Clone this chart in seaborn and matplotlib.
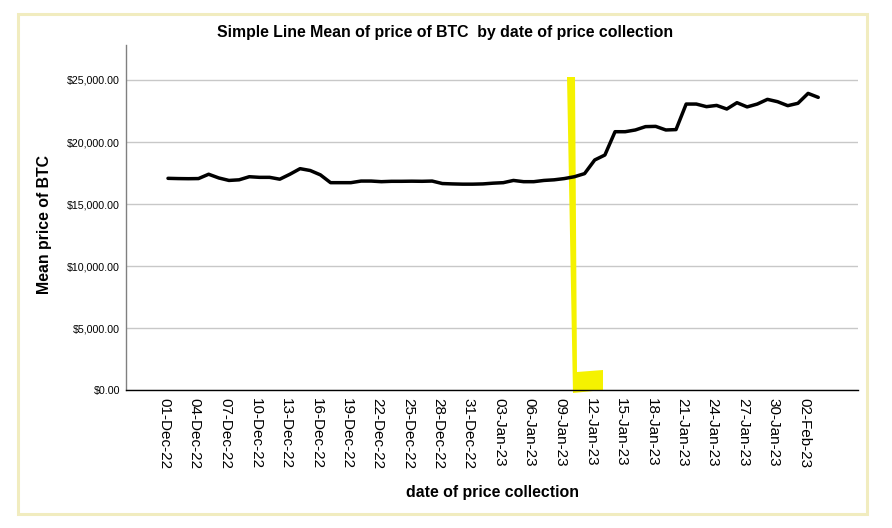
import matplotlib
matplotlib.use('Agg')
import numpy as np
import pandas as pd
import matplotlib.pyplot as plt
import matplotlib.dates as mdates
import matplotlib.transforms as mtransforms
from matplotlib.ticker import FuncFormatter, MultipleLocator
from matplotlib.patches import Rectangle, Polygon
import seaborn as sns

# daily mean BTC price, 01-Dec-22 .. 03-Feb-23
start_date = '2022-12-01'
mean_price = [
    17070, 17050, 17040, 17050, 17400, 17100, 16900, 16950, 17200, 17150,
    17150, 17000, 17400, 17850, 17700, 17350, 16720, 16720, 16720, 16850,
    16850, 16800, 16830, 16830, 16840, 16830, 16850, 16650, 16620, 16600,
    16600, 16620, 16680, 16720, 16900, 16800, 16800, 16900, 16950, 17050,
    17200, 17450, 18550, 18950, 20830, 20830, 20970, 21240, 21260, 20970,
    21000, 23060, 23060, 22850, 22950, 22660, 23170, 22830, 23060, 23440,
    23250, 22930, 23120, 23920, 23600,
]
dates = pd.date_range(start_date, periods=len(mean_price), freq='D')
df = pd.DataFrame({'date': dates, 'price': mean_price})

title = 'Simple Line Mean of price of BTC  by date of price collection'
xlabel = 'date of price collection'
ylabel = 'Mean price of BTC'

sns.set_style('white')
plt.rcParams['font.family'] = ['Liberation Sans', 'DejaVu Sans']
for k in ['text.color', 'axes.labelcolor', 'xtick.color', 'ytick.color']:
    plt.rcParams[k] = 'black'

fig = plt.figure(figsize=(8.92, 5.28), dpi=100)
ax = fig.add_axes([126 / 892, 138 / 528, 732 / 892, 345 / 528])

# yellow highlighter scribble (annotation on the picture)
d0 = mdates.date2num(dates[0])
px_day = 10.16
hl = [(567, 77), (575, 77), (577, 372), (603, 370), (603, 390), (573, 393)]
hl_pts = [(d0 + (px - 168) / px_day, (390 - py) / 62 * 5000) for px, py in hl]
ax.add_patch(Polygon(hl_pts, closed=True, facecolor='#f5f200', edgecolor='none',
                     zorder=1, clip_on=False))

sns.lineplot(data=df, x='date', y='price', color='black', linewidth=2.5, ax=ax, zorder=3)

ax.set_ylim(0, 345 / 62 * 5000)
ax.set_xlim(d0 - 42 / px_day, d0 + 690 / px_day)
ax.yaxis.set_major_locator(MultipleLocator(5000))
ax.yaxis.set_major_formatter(FuncFormatter(lambda v, p: f'${v:,.2f}'))
ax.set_xticks(dates[::3])
ax.xaxis.set_major_formatter(mdates.DateFormatter('%d-%b-%y'))
ax.tick_params(axis='x', length=0, pad=5.5, labelsize=11, rotation=-90)
ax.tick_params(axis='y', length=0, pad=4.3, labelsize=7.7)
shift = mtransforms.ScaledTranslation(-4 / 100, 0, fig.dpi_scale_trans)
for lab in ax.get_xticklabels():
    lab.set_va('top')
    lab.set_ha('center')
    lab.set_transform(lab.get_transform() + shift)

ax.yaxis.grid(True, color='#c8c8c8', linewidth=1)
ax.xaxis.grid(False)
ax.set_axisbelow(True)
for s in ['top', 'right']:
    ax.spines[s].set_visible(False)
ax.spines['left'].set_color('#808080')
ax.spines['left'].set_linewidth(1)
ax.spines['bottom'].set_color('black')
ax.spines['bottom'].set_linewidth(1)
ax.set_xlabel('')
ax.set_ylabel('')

fig.text(445 / 892, 1 - 32 / 528, title, ha='center', va='center',
         fontsize=11.4, fontweight='bold')
fig.text(493 / 892, 1 - 493 / 528, xlabel, ha='center', va='center',
         fontsize=11.4, fontweight='bold')
fig.text(45 / 892, 1 - 225 / 528, ylabel, ha='center', va='center',
         fontsize=11.4, fontweight='bold', rotation=90)

# pale yellow frame
fig.patches.append(Rectangle((18 / 892, 1 - 514 / 528), 849 / 892, 500 / 528,
                             transform=fig.transFigure, fill=False,
                             edgecolor='#f1ecbf', linewidth=2.2))

fig.savefig('out.png', dpi=100)
